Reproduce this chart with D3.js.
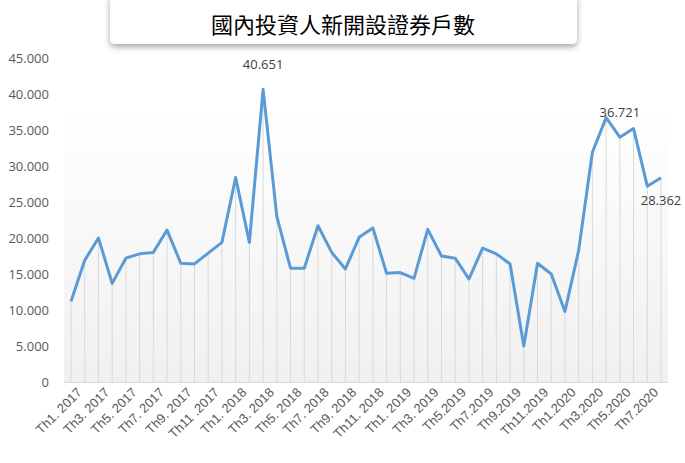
<!DOCTYPE html><html><head><meta charset="utf-8"><script src="https://cdn.jsdelivr.net/npm/d3@7"></script>
<style>body{margin:0;background:#fff;font-family:"Open Sans","DejaVu Sans",sans-serif}</style></head><body><svg id="c" width="685" height="463"></svg>
<script>
const title="國內投資人新開設證券戶數";
const values=[11200,16900,20000,13700,17200,17800,18000,21100,16500,16400,17900,19400,
28400,19400,40651,23000,15800,15800,21700,18000,15700,20100,21400,15100,
15200,14400,21200,17500,17200,14300,18600,17800,16400,5000,16500,15000,
9800,18300,31900,36721,34000,35200,27200,28362];
const tickLabels=["Th1. 2017","Th3. 2017","Th5. 2017","Th7. 2017","Th9. 2017","Th11 .2017","Th1. 2018","Th3. 2018","Th5. 2018","Th7. 2018","Th9. 2018","Th11. 2018","Th1. 2019","Th3. 2019","Th5.2019","Th7.2019","Th9.2019","Th11.2019","Th1.2020","Th3.2020","Th5.2020","Th7.2020"];
const yTicks=[0,5000,10000,15000,20000,25000,30000,35000,40000,45000];
const labeled={14:"40.651",40:"36.721",43:"28.362"};
const svg=d3.select("#c");
const defs=svg.append("defs");
const g1=defs.append("linearGradient").attr("id","bg").attr("x1",0).attr("y1",0).attr("x2",0).attr("y2",1);
g1.append("stop").attr("offset","0").attr("stop-color","#fff");
g1.append("stop").attr("offset","1").attr("stop-color","#f0f0f0");
const f=defs.append("filter").attr("id","sh").attr("x","-10%").attr("y","-30%").attr("width","120%").attr("height","180%");
f.append("feDropShadow").attr("dx",0).attr("dy",3).attr("stdDeviation",3).attr("flood-color","#000").attr("flood-opacity",0.35);
const L=64,R=668,T=58,B=382;
const idx=d3.range(values.length);
const x=d3.scalePoint().domain(idx).range([71,661]);
const y=d3.scaleLinear().domain([0,45000]).range([B,T]);
svg.append("rect").attr("x",L).attr("y",y(38000)).attr("width",R-L).attr("height",B-y(38000)).attr("fill","url(#bg)");
svg.append("g").selectAll("line").data(idx).join("line").attr("x1",d=>x(d)).attr("x2",d=>x(d)).attr("y1",d=>y(values[d])).attr("y2",B).attr("stroke","#d9d9d9").attr("stroke-width",1);
svg.append("line").attr("x1",L).attr("x2",R).attr("y1",B+0.5).attr("y2",B+0.5).attr("stroke","#d9d9d9");
const ya=svg.append("g").attr("transform",`translate(52,0)`).call(d3.axisLeft(y).tickValues(yTicks).tickSize(0).tickFormat(d=>d===0?"0":d3.format(".3f")(d/1000)));
ya.select(".domain").remove();
ya.selectAll("text").attr("font-size",13).attr("fill","#595959").attr("font-family","'Open Sans',sans-serif");
const xa=svg.append("g").attr("transform",`translate(0,${B})`).call(d3.axisBottom(x).tickValues(idx.filter(i=>i%2===0)).tickSize(0).tickFormat(i=>tickLabels[i/2]));
xa.select(".domain").remove();
xa.selectAll("text").attr("font-size",13).attr("fill","#595959").attr("text-anchor","end").attr("transform","translate(8,8) rotate(-45)").attr("dy","0.35em").attr("y",0);
svg.append("path").datum(idx).attr("d",d3.line().x(d=>x(d)).y(d=>y(values[d]))).attr("fill","none").attr("stroke","#5b9bd5").attr("stroke-width",3).attr("stroke-linejoin","round");
Object.entries(labeled).forEach(([i,t])=>{i=+i;const below=i===43;
svg.append("text").attr("x",x(i)+(below?0:0)).attr("y",below?y(values[i])+27:y(values[i])-20).attr("text-anchor","middle").attr("font-size",13).attr("fill","#404040").text(t);});
svg.append("rect").attr("x",110).attr("y",-6).attr("width",467).attr("height",50).attr("rx",5).attr("fill","#fff").attr("filter","url(#sh)");
svg.append("text").attr("x",343).attr("y",33).attr("text-anchor","middle").attr("font-size",22).attr("fill","#000").attr("font-family","'Noto Sans CJK TC',sans-serif").text(title);
</script></body></html>
